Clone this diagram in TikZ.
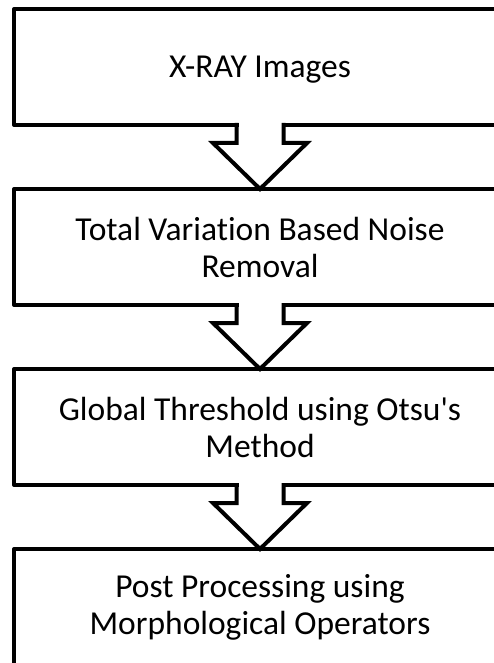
\documentclass[tikz,border=0pt]{standalone}
\usepackage{fontspec}
\setmainfont{Carlito}[Ligatures={TeX,NoCommon}]
\usetikzlibrary{positioning,calc}

\begin{document}
\begin{tikzpicture}[x=1pt,y=-1pt,
  node distance=64pt,
  phase/.style={draw, line width=4pt, line join=round, outer sep=0pt,
    minimum width=492pt, minimum height=116pt, align=center,
    font=\fontsize{33.5}{37}\selectfont},
  flowarrow/.style={draw, line width=4pt}]

% Area visibile
\clip (0,0) rectangle (494,663);

% Fasi
\node[phase, text depth=0pt] (xray) at (260,67) {X-RAY Images};
\node[phase, below=of xray] (tv) {Total Variation Based Noise\\Removal};
\node[phase, below=of tv] (otsu) {Global Threshold using Otsu\textquotesingle s\\Method};
\node[phase, below=of otsu] (post) {Post Processing using\\Morphological Operators};

% Frecce a blocco
\foreach \src/\dst in {xray/tv, tv/otsu, otsu/post}{
  \coordinate (sl) at ($(\src.south)+(-23.5,0)$);
  \coordinate (sr) at ($(\src.south)+(23.5,0)$);
  \coordinate (wl) at ($(\dst.north)+(-47,-46)$);
  \coordinate (wr) at ($(\dst.north)+(47,-46)$);
  \fill[white] ($(\src.south)+(-21.5,-3)$) rectangle ($(\src.south)+(21.5,3)$);
  \draw[flowarrow] ($(sl)+(0,-2)$) -- (sl |- wl) -- (wl) -- (\dst.north)
    -- (wr) -- (sr |- wr) -- ($(sr)+(0,-2)$);
}

\end{tikzpicture}
\end{document}
